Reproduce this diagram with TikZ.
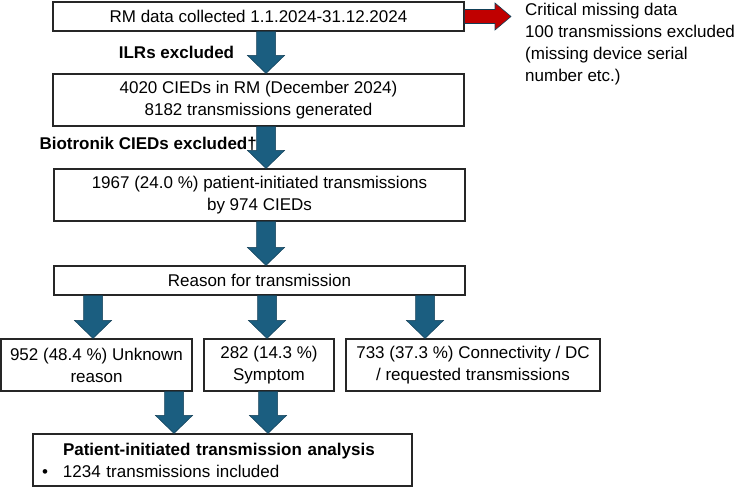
\documentclass[tikz,border=0pt]{standalone}
\usepackage{fontspec}
\setmainfont{Liberation Sans}
\usepackage{tikz}
\usetikzlibrary{calc,positioning}
\definecolor{flowblue}{HTML}{1B5E80}
\definecolor{flowedge}{HTML}{123F57}
\definecolor{flowred}{HTML}{C00000}
\newcommand{\tf}{\fontsize{17}{22}\selectfont}

\begin{document}
\begin{tikzpicture}[x=1pt, y=-1pt, every node/.style={font=\tf},
  flowbox/.style={draw=black!85, line width=1.1pt, fill=white, align=center, inner sep=0pt, minimum height=#1},
  flowbox/.default=52,
  blockarr/.style={fill=flowblue, draw=flowedge, line width=0.5pt, line join=miter},
  redarr/.style={fill=flowred, draw=flowedge, line width=0.6pt, line join=miter}]
% ---- block arrows (start point, tip)
\newcommand{\downblock}[2]{%
  \draw[blockarr] let \p1=(#1), \p2=(#2) in
    (\x1-9.5pt,\y1) -- (\x1+9.5pt,\y1) -- (\x1+9.5pt,\y2+18pt) -- (\x1+18.5pt,\y2+18pt)
    -- (\x1,\y2) -- (\x1-18.5pt,\y2+18pt) -- (\x1-9.5pt,\y2+18pt) -- cycle;}
\newcommand{\rightblock}[2]{%
  \draw[redarr] let \p1=(#1), \p2=(#2) in
    (\x1,\y2+7pt) -- (\x1,\y2-7pt) -- (\x2-16pt,\y2-7pt) -- (\x2-16pt,\y2-13.5pt)
    -- (\x2,\y2) -- (\x2-16pt,\y2+13.5pt) -- (\x2-16pt,\y2+7pt) -- cycle;}
\useasboundingbox (0,0) rectangle (748,487);
\coordinate (spine) at (266,0);
\coordinate (leftarr) at (93,0);
\coordinate (midarr) at (267,0);
\coordinate (rightarr) at (425,0);
\coordinate (lowl) at (174,0);
\coordinate (lowm) at (268,0);
\coordinate (misstip) at (511,16.5);
% ---- main column
\node[flowbox=29, minimum width=411] (collected) at (258.5,16.5) {RM data collected 1.1.2024-31.12.2024};
\node[flowbox, minimum width=411] (devices) at (258.5,100) {4020 CIEDs in RM (December 2024)\\8182 transmissions generated};
\node[flowbox, minimum width=411] (initiated) at (259.5,195) {1967 (24.0 \%) patient-initiated transmissions\\by 974 CIEDs};
\node[flowbox=29, minimum width=411] (reason) at (259.5,280.5) {Reason for transmission};
% ---- reasons
\node[flowbox, minimum width=191] (unknown) at (96.5,365) {952 (48.4 \%) Unknown\\reason};
\node[flowbox, minimum width=130] (symptom) at (269,365) {282 (14.3 \%)\\Symptom};
\node[flowbox, minimum width=254] (connect) at (473,365) {733 (37.3 \%) Connectivity / DC\\/ requested transmissions};
% ---- analysis
\node[flowbox, text width=361, inner xsep=9pt, align=left] (analysis) at (222.5,460)
  {\hspace*{21pt}\textbf{Patient-initiated transmission analysis}\\
   \makebox[21pt][l]{\textbullet}1234 transmissions included};
% ---- exclusions
\node[font=\tf\bfseries] (ilr) at (176.5,52) {ILRs excluded};
\node[font=\tf\bfseries, anchor=west] (biotronik) at (36,144) {Biotronik CIEDs excluded\textdagger};
\node[anchor=north west, align=left, inner sep=0pt] (missing) at (525,3)
  {Critical missing data\\100 transmissions excluded\\(missing device serial\\number etc.)};
% ---- arrows
\rightblock{collected.east}{misstip}
\downblock{collected.south -| spine}{devices.north -| spine}
\downblock{devices.south -| spine}{initiated.north -| spine}
\downblock{initiated.south -| spine}{reason.north -| spine}
\downblock{reason.south -| leftarr}{unknown.north -| leftarr}
\downblock{reason.south -| midarr}{symptom.north -| midarr}
\downblock{reason.south -| rightarr}{connect.north -| rightarr}
\downblock{unknown.south -| lowl}{analysis.north -| lowl}
\downblock{symptom.south -| lowm}{analysis.north -| lowm}
\end{tikzpicture}
\end{document}
